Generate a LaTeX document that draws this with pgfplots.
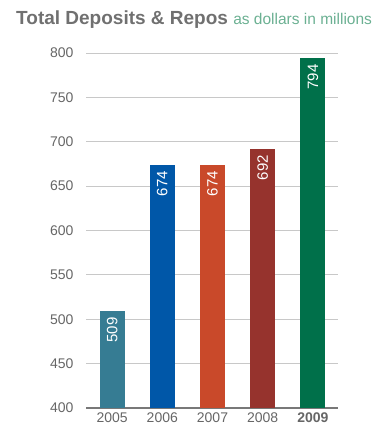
\documentclass[border=0pt]{standalone}
\usepackage{pgfplots}
\pgfplotsset{compat=1.18}
\usepackage{fontspec}
\setmainfont{Liberation Sans}
\definecolor{c05}{RGB}{54,124,147}
\definecolor{c06}{RGB}{0,87,168}
\definecolor{c07}{RGB}{201,73,42}
\definecolor{c08}{RGB}{150,51,45}
\definecolor{c09}{RGB}{0,112,74}
\definecolor{tgray}{RGB}{102,102,102}
\definecolor{titlegray}{RGB}{112,112,112}
\definecolor{subgreen}{RGB}{107,176,146}
\definecolor{gridgray}{RGB}{200,200,200}
\definecolor{axgray}{RGB}{120,120,120}
\begin{document}
\begin{tikzpicture}
\useasboundingbox (-86pt,-20pt) rectangle (302pt,408pt);
\begin{axis}[
  at={(0,0)}, anchor=south west,
  scale only axis, width=252pt, height=355pt,
  xmin=-0.52, xmax=4.5, ymin=400, ymax=800,
  ytick={400,450,...,800},
  xtick={0,1,2,3,4},
  xticklabels={2005,2006,2007,2008,\textbf{2009}},
  /pgf/number format/assume math mode=true,
  major tick length=0pt,
  axis x line*=bottom, axis y line*=left,
  y axis line style={draw=none},
  x axis line style={draw=axgray, line width=2pt, -},
  ymajorgrids, grid style={gridgray, line width=0.9pt},
  tick label style={font=\fontsize{14}{16}\selectfont, text=tgray},
  yticklabel style={xshift=-9pt},
  xticklabel style={yshift=-1pt},
  ybar, bar width=25pt, bar shift=0pt,
  nodes near coords,
  every node near coord/.append style={rotate=90, anchor=east, text=white,
     font=\fontsize{15}{17}\selectfont, inner sep=6pt},
  clip=false,
]
\addplot[fill=c05, draw=none] coordinates {(0,509)};
\addplot[fill=c06, draw=none] coordinates {(1,674)};
\addplot[fill=c07, draw=none] coordinates {(2,674)};
\addplot[fill=c08, draw=none] coordinates {(3,692)};
\addplot[fill=c09, draw=none] coordinates {(4,794)};
\end{axis}
\node[anchor=base west, inner sep=0pt] at (-70pt,383pt)
  {\fontsize{19}{22}\selectfont\bfseries\color{titlegray}Total Deposits \& Repos\ \mdseries\fontsize{15.5}{18}\selectfont\color{subgreen}as dollars in millions};
\end{tikzpicture}
\end{document}
